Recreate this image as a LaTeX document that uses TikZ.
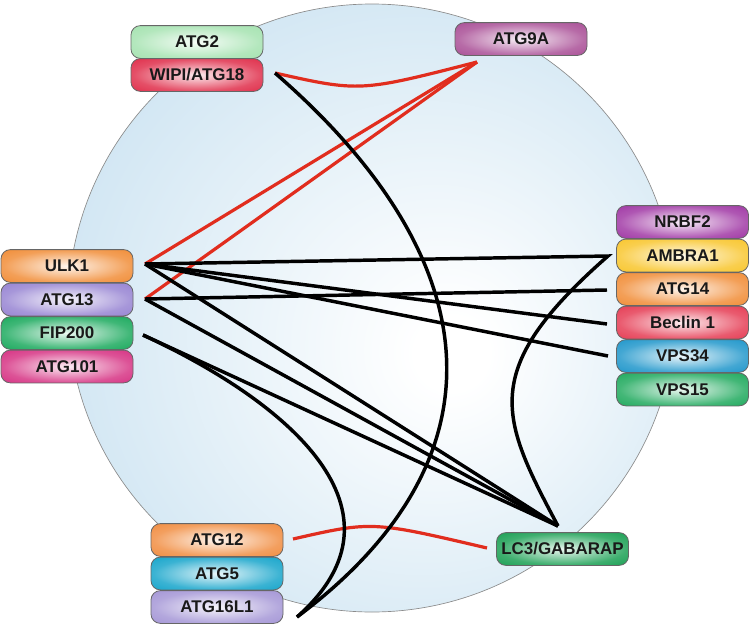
\documentclass[tikz,border=0pt]{standalone}
\usepackage{fontspec}
\setmainfont{Liberation Sans}
\definecolor{bubblue}{RGB}{198,224,240}
\definecolor{linkred}{RGB}{225,45,30}
\definecolor{cATGtwo}{RGB}{160,225,172}
\definecolor{cWIPI}{RGB}{222,35,65}
\definecolor{cATGnineA}{RGB}{165,70,145}
\definecolor{cULK}{RGB}{240,135,45}
\definecolor{cATGthirteen}{RGB}{145,125,208}
\definecolor{cFIP}{RGB}{15,165,85}
\definecolor{cATGoneoone}{RGB}{212,40,125}
\definecolor{cNRBF}{RGB}{155,45,160}
\definecolor{cAMBRA}{RGB}{248,195,35}
\definecolor{cATGfourteen}{RGB}{240,135,45}
\definecolor{cBeclin}{RGB}{228,50,75}
\definecolor{cVPSthirtyfour}{RGB}{20,145,200}
\definecolor{cVPSfifteen}{RGB}{20,165,85}
\definecolor{cATGtwelve}{RGB}{240,135,55}
\definecolor{cATGfive}{RGB}{10,160,200}
\definecolor{cATGsixteen}{RGB}{160,145,212}
\definecolor{cLCthree}{RGB}{15,155,75}
\colorlet{boxc}{white}
\pgfdeclareradialshading[boxc]{boxshade}{\pgfpointorigin}{color(0bp)=(boxc!8!white); color(7bp)=(boxc!30!white); color(24bp)=(boxc!80!white); color(40bp)=(boxc); color(50bp)=(boxc)}
\pgfdeclareradialshading{bubble}{\pgfpoint{7bp}{-4bp}}{color(0bp)=(white); color(3bp)=(white); color(36bp)=(bubblue); color(50bp)=(bubblue)}
\begin{document}
\begin{tikzpicture}[x=0.75pt,y=-0.75pt,
  boxcol/.code={\colorlet{boxc}{#1}},
  pbox/.style={rectangle, rounded corners=7pt, draw=black!60, line width=0.6pt,
    minimum width=99pt, minimum height=24.6pt, inner sep=0pt,
    font=\fontsize{12.7}{14}\selectfont\bfseries, text=black!90,
    boxcol=#1, shading=boxshade},
  redl/.style={draw=linkred, line width=2.4pt},
  blkl/.style={draw=black, line width=2.6pt}]
\useasboundingbox (0,0) rectangle (750,625);
\path[shading=bubble, draw=black!45, line width=0.5pt] (372,308) circle[radius=304];

% connector end points
\coordinate (hU) at (145,264);
\coordinate (hA) at (145,299);
\coordinate (hF) at (143,335);
\coordinate (pW) at (275,73);
\coordinate (p9) at (477,62);
\coordinate (pAm) at (608,256);
\coordinate (p14) at (607,290);
\coordinate (pBe) at (607,324);
\coordinate (p34) at (608,356);
\coordinate (hL) at (558,526);
\coordinate (p12) at (293,539);
\coordinate (pLr) at (487,548);
\coordinate (p16) at (297,617);

% red links
\draw[redl] (pW) .. controls (360,92) .. (p9);
\draw[redl] (hU) -- (p9);
\draw[redl] (hA) -- (p9);
\draw[redl] (p12) .. controls (372,521) .. (pLr);

% black links
\draw[blkl] (hU) -- (pAm) .. controls (478,370) and (500,417) .. (hL);
\draw[blkl] (hU) -- (pBe);
\draw[blkl] (hU) -- (p34);
\draw[blkl] (hU) -- (hL);
\draw[blkl] (hA) -- (p14);
\draw[blkl] (hA) -- (hL);
\draw[blkl] (hF) -- (hL);
\draw[blkl] (hF) .. controls (288,402) and (417,511) .. (p16);
\draw[blkl] (pW) .. controls (494,263) and (506,461) .. (p16);

% protein boxes
\node[pbox=cATGtwo] (atg2) at (197,42) {ATG2};
\node[pbox=cWIPI] (wipi) at (197,75) {WIPI/ATG18};
\node[pbox=cATGnineA] (atg9a) at (521,39) {ATG9A};
\node[pbox=cULK] (ulk1) at (67,266) {ULK1};
\node[pbox=cATGthirteen] (atg13) at (67,299.5) {ATG13};
\node[pbox=cFIP] (fip200) at (67,333) {FIP200};
\node[pbox=cATGoneoone] (atg101) at (67,366.5) {ATG101};
\node[pbox=cNRBF] (nrbf2) at (682.5,222) {NRBF2};
\node[pbox=cAMBRA] (ambra1) at (682.5,255.5) {AMBRA1};
\node[pbox=cATGfourteen] (atg14) at (682.5,289) {ATG14};
\node[pbox=cBeclin] (beclin) at (682.5,322.5) {Beclin 1};
\node[pbox=cVPSthirtyfour] (vps34) at (682.5,356) {VPS34};
\node[pbox=cVPSfifteen] (vps15) at (682.5,389.5) {VPS15};
\node[pbox=cATGtwelve] (atg12) at (217,540) {ATG12};
\node[pbox=cATGfive] (atg5) at (217,573.5) {ATG5};
\node[pbox=cATGsixteen] (atg16) at (217,607) {ATG16L1};
\node[pbox=cLCthree] (lc3) at (562.5,549) {LC3/GABARAP};
\end{tikzpicture}
\end{document}
